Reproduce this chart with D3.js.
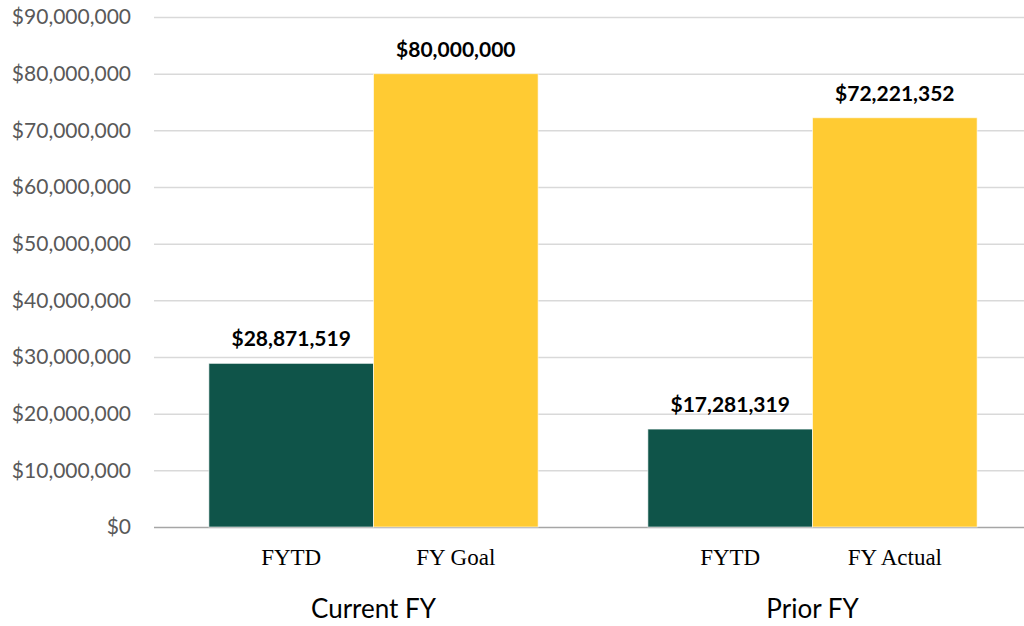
<!DOCTYPE html>
<html>
<head>
<meta charset="utf-8">
<script src="https://cdn.jsdelivr.net/npm/d3@7"></script>
<style>
  body { margin: 0; background: #fff; }
  svg { display: block; }
</style>
</head>
<body>
<div id="chart"></div>
<script>
// Data
const groups = ['Current FY', 'Prior FY'];
const subLabels = [['FYTD', 'FY Goal'], ['FYTD', 'FY Actual']];
const fytdValues = [28871519, 17281319];
const fullYearValues = [80000000, 72221352];
const yTicks = [0, 10000000, 20000000, 30000000, 40000000, 50000000, 60000000, 70000000, 80000000, 90000000];

const W = 1024, H = 626;
const margin = { top: 17, right: -8, bottom: 99, left: 154 };
const width = W - margin.left - margin.right;
const height = H - margin.top - margin.bottom;

const svg = d3.select('#chart').append('svg')
    .attr('width', W)
    .attr('height', H);

const g = svg.append('g')
    .attr('transform', `translate(${margin.left},${margin.top})`);

// Scales
const x0 = d3.scaleBand()
    .domain(groups)
    .range([0, width])
    .paddingInner(0.25)
    .paddingOuter(0.125);

const x1 = d3.scaleBand()
    .domain([0, 1])
    .range([0, x0.bandwidth()]);

const y = d3.scaleLinear()
    .domain([0, 90000000])
    .range([height, 0]);

const money = v => '$' + d3.format(',')(v);

// Grid lines + y labels
const yAxis = d3.axisLeft(y)
    .tickValues(yTicks)
    .tickSize(-width)
    .tickPadding(23)
    .tickFormat(money);

const gy = g.append('g').call(yAxis);
gy.select('.domain').remove();
gy.selectAll('.tick line')
    .attr('stroke', d => d === 0 ? '#a6a6a6' : '#d9d9d9')
    .attr('stroke-width', 1.5);
gy.selectAll('.tick text')
    .attr('fill', '#595959')
    .style('font-family', 'Lato, "Open Sans", sans-serif')
    .style('font-size', '21px');

// Bars
const rows = groups.map((grp, i) => ([
    { group: grp, idx: 0, label: subLabels[i][0], value: fytdValues[i] },
    { group: grp, idx: 1, label: subLabels[i][1], value: fullYearValues[i] }
])).flat();

const colors = ['#0f5449', '#ffcb33'];

g.selectAll('.bar')
    .data(rows)
    .enter().append('rect')
    .attr('class', 'bar')
    .attr('x', d => x0(d.group) + x1(d.idx))
    .attr('width', x1.bandwidth())
    .attr('y', d => y(d.value))
    .attr('height', d => height - y(d.value))
    .attr('fill', d => colors[d.idx])
    .attr('stroke', 'rgba(255,255,255,0.6)')
    .attr('stroke-width', 1);

// Value labels
g.selectAll('.val')
    .data(rows)
    .enter().append('text')
    .attr('x', d => x0(d.group) + x1(d.idx) + x1.bandwidth() / 2)
    .attr('y', d => y(d.value) - 17)
    .attr('text-anchor', 'middle')
    .style('font-family', 'Lato, "Open Sans", sans-serif')
    .style('font-weight', 'bold')
    .style('font-size', '21px')
    .attr('fill', '#000')
    .text(d => money(d.value));

// Sub-category labels
g.selectAll('.sub')
    .data(rows)
    .enter().append('text')
    .attr('x', d => x0(d.group) + x1(d.idx) + x1.bandwidth() / 2)
    .attr('y', height + 38)
    .attr('text-anchor', 'middle')
    .style('font-family', '"Liberation Serif", "Times New Roman", serif')
    .style('font-size', '23px')
    .attr('fill', '#000')
    .text(d => d.label);

// Group labels
g.selectAll('.grp')
    .data(groups)
    .enter().append('text')
    .attr('x', d => x0(d) + x0.bandwidth() / 2)
    .attr('y', height + 91)
    .attr('text-anchor', 'middle')
    .style('font-family', 'Lato, "Open Sans", sans-serif')
    .style('font-size', '26px')
    .attr('fill', '#000')
    .text(d => d);
</script>
</body>
</html>
